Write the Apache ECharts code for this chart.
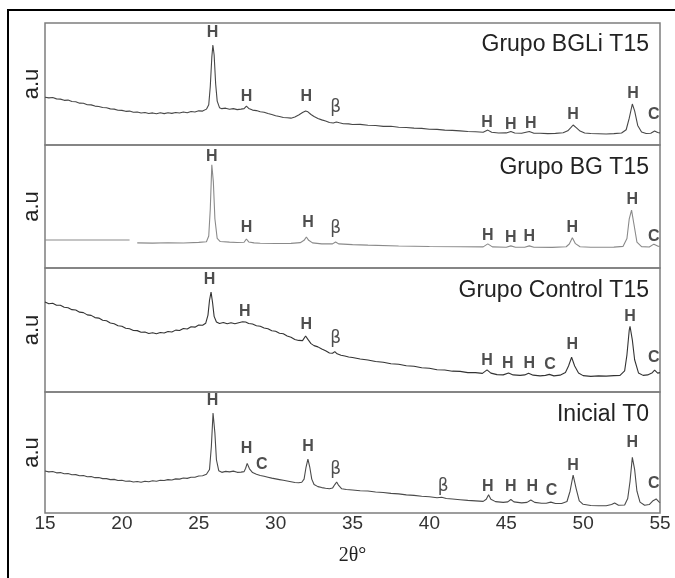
<!DOCTYPE html>
<html lang="es">
<head>
<meta charset="UTF-8">
<title>DRX grupos</title>
<script src="https://cdn.jsdelivr.net/npm/echarts@6/dist/echarts.min.js"></script>
<style>
    * { margin: 0; padding: 0; }
    body { background: #fff; }
    #chart { width: 675px; height: 578px; }
</style>
</head>
<body>
<div id="chart"></div>
<script>
// intensidades relativas (0-100 dentro de cada panel), 2theta en grados
var bgliData = [[15,39.2],[15.25,38.6],[15.5,38.9],[15.75,37.8],[16,37.6],[16.25,36.6],[16.5,36.8],[16.75,35.6],[17,35.4],[17.25,34.3],[17.5,34.2],[17.75,33.0],[18,32.9],[18.25,31.9],[18.5,31.6],[18.75,30.7],[19,30.5],[19.25,29.6],[19.5,29.4],[19.75,28.5],[20,28.4],[20.25,27.6],[20.5,27.8],[20.75,26.9],[21,27.1],[21.25,26.2],[21.5,26.6],[21.75,25.8],[22,26.3],[22.25,25.6],[22.5,26.4],[22.75,25.7],[23,26.5],[23.25,25.9],[23.5,26.7],[23.75,26.2],[24,27.0],[24.25,26.5],[24.5,27.5],[24.75,27.1],[25,28.0],[25.25,27.8],[25.5,29.4],[25.65,33],[25.75,48],[25.85,72],[25.92,82],[26.0,74],[26.1,50],[26.2,36],[26.35,30.6],[26.5,29.8],[26.75,30.2],[27,29.3],[27.25,29.8],[27.5,29.0],[27.75,29.4],[27.95,29.8],[28.1,31.8],[28.25,30.0],[28.5,28.6],[28.75,28.2],[29,27.3],[29.25,26.9],[29.5,25.8],[29.75,25.0],[30,24.0],[30.25,23.4],[30.5,22.6],[30.75,22.3],[31,22.0],[31.25,23.0],[31.5,24.6],[31.75,26.6],[31.95,27.8],[32.1,27.2],[32.3,25],[32.5,23.4],[32.75,21.8],[33,20.6],[33.25,19.6],[33.5,18.4],[33.75,18.0],[33.95,18.9],[34.15,18.2],[34.4,17.4],[34.75,17.3],[35,16.8],[35.5,16.9],[36,16.2],[36.5,16.0],[37,15.3],[37.5,15.4],[38,14.6],[38.5,14.3],[39,13.8],[39.5,13.6],[40,12.9],[40.5,12.8],[41,12.2],[41.5,12.0],[42,11.6],[42.5,11.1],[43,10.9],[43.5,10.5],[43.8,12.2],[44.05,10.4],[44.5,9.8],[45,9.9],[45.3,11.0],[45.55,9.8],[46,9.6],[46.5,11.0],[46.8,9.6],[47.2,9.6],[47.7,9.3],[48.2,9.5],[48.7,10.0],[49.0,11.6],[49.2,14.2],[49.35,16.4],[49.55,14.2],[49.8,11.4],[50.1,9.8],[50.5,9.4],[51,9.2],[51.5,9.0],[52,9.3],[52.5,9.8],[52.8,12.5],[53.0,22],[53.2,33.6],[53.35,28],[53.55,16],[53.8,10.6],[54.1,9.4],[54.4,9.6],[54.65,11.4],[54.85,10.2],[55,9.8]];

var bgData = [[15,22.8],[20.5,22.8],[20.75,null],[21,20.4],[22,20.2],[23,20.5],[24,20.3],[25,20.8],[25.5,21.4],[25.65,26],[25.75,48],[25.85,84],[25.95,70],[26.05,40],[26.2,24],[26.4,21.5],[27,21.0],[27.5,20.7],[27.95,20.9],[28.1,23.6],[28.25,21.2],[28.6,20.4],[29,20.1],[30,19.9],[31,20.0],[31.6,20.6],[31.85,22.5],[32.0,25.2],[32.15,22.5],[32.4,20.4],[33,19.6],[33.7,19.6],[33.9,21.2],[34.1,19.6],[35,19.0],[36,18.6],[38,17.9],[40,17.5],[42,17.3],[43.5,17.2],[43.8,19.6],[44.1,17.2],[45,16.9],[45.3,18.0],[45.6,16.9],[46.2,16.9],[46.5,18.0],[46.8,16.9],[48,16.8],[48.9,17.3],[49.1,19.5],[49.3,24.5],[49.5,19.8],[49.8,17.3],[50.5,16.9],[52,17.0],[52.6,17.6],[52.85,24],[53.0,40],[53.15,47],[53.3,36],[53.5,21],[53.8,17.4],[54.3,17.1],[54.6,19.4],[54.85,17.8],[55,17.6]];

var controlData = [[15,72.6],[15.25,71.2],[15.5,71.6],[15.75,69.9],[16,70.0],[16.25,68.3],[16.5,68.0],[16.75,66.4],[17,66.1],[17.25,64.4],[17.5,64.0],[17.75,62.2],[18,61.8],[18.25,60.0],[18.5,59.6],[18.75,57.8],[19,57.4],[19.25,55.6],[19.5,55.0],[19.75,53.4],[20,53.0],[20.25,51.4],[20.5,51.0],[20.75,49.6],[21,49.5],[21.25,48.2],[21.5,48.4],[21.75,47.2],[22,47.8],[22.25,46.9],[22.5,48.0],[22.75,47.6],[23,48.8],[23.25,48.4],[23.5,49.9],[23.75,49.6],[24,51.2],[24.25,50.8],[24.5,52.6],[24.75,52.3],[25,54.0],[25.25,53.8],[25.45,55.4],[25.6,62],[25.7,74],[25.8,80.6],[25.9,72],[26.0,61],[26.15,56.5],[26.35,55.2],[26.6,56.0],[26.85,55.0],[27.1,55.8],[27.35,55.0],[27.6,55.9],[27.85,56.6],[28.05,56.4],[28.25,55.2],[28.5,54.8],[28.75,53.4],[29,53.0],[29.25,51.6],[29.5,51.0],[29.75,49.4],[30,49.0],[30.25,47.4],[30.5,47.0],[30.75,45.2],[31,44.2],[31.25,42.4],[31.5,41.6],[31.75,41.4],[31.95,45.2],[32.1,42.4],[32.3,39.0],[32.5,37.4],[32.75,36.4],[33,34.6],[33.25,33.2],[33.5,31.4],[33.7,31.2],[33.85,32.6],[34.0,30.8],[34.25,29.6],[34.5,29.0],[34.75,28.2],[35,27.8],[35.5,26.6],[36,25.8],[36.5,24.6],[37,24.0],[37.5,22.8],[38,22.4],[38.5,21.2],[39,20.8],[39.5,19.6],[40,19.2],[40.5,18.0],[41,17.8],[41.5,16.8],[42,16.6],[42.5,15.6],[43,15.6],[43.45,15.0],[43.75,17.8],[44.0,15.2],[44.4,14.0],[44.8,13.8],[45.15,15.4],[45.45,13.8],[45.9,13.4],[46.2,13.8],[46.45,15.2],[46.75,13.6],[47.2,13.0],[47.55,13.4],[47.8,14.2],[48.1,13.0],[48.5,13.6],[48.85,15.8],[49.05,21],[49.25,28],[49.45,21],[49.7,15.4],[50,13.2],[50.5,12.6],[51,13.0],[51.5,12.8],[52,13.2],[52.4,13.4],[52.7,17],[52.85,30],[53.0,50],[53.05,53],[53.2,42],[53.35,26],[53.6,15.4],[53.9,13.4],[54.2,13.8],[54.5,15.6],[54.65,17.6],[54.85,15.2],[55,15.6]];

var inicialData = [[15,34.7],[15.25,34.0],[15.5,34.3],[15.75,33.2],[16,33.4],[16.25,32.5],[16.5,32.6],[16.75,31.6],[17,31.7],[17.25,30.8],[17.5,31.0],[17.75,30.0],[18,30.2],[18.25,29.2],[18.5,29.3],[18.75,28.4],[19,28.4],[19.25,27.6],[19.5,27.8],[19.75,26.8],[20,27.0],[20.25,26.2],[20.5,26.4],[20.75,25.6],[21,26.0],[21.25,25.4],[21.5,26.2],[21.75,25.8],[22,26.6],[22.25,26.2],[22.5,27.0],[22.75,26.8],[23,27.6],[23.25,27.3],[23.5,28.2],[23.75,28.0],[24,28.9],[24.25,28.6],[24.5,29.6],[24.75,29.6],[25,30.6],[25.25,30.8],[25.5,32.0],[25.7,36],[25.82,55],[25.93,82.6],[26.05,66],[26.15,44],[26.3,35],[26.5,33.6],[26.75,34.4],[27,34.0],[27.25,34.6],[27.5,33.6],[27.75,33.8],[27.95,34.2],[28.05,37],[28.15,41],[28.3,36.5],[28.5,33.4],[28.75,32.0],[29,31.0],[29.25,30.4],[29.5,29.6],[29.75,28.8],[30,28.2],[30.25,27.6],[30.5,27.0],[30.75,26.4],[31,25.8],[31.25,25.2],[31.5,25.0],[31.7,25.4],[31.85,28],[31.98,38],[32.1,44.6],[32.22,38],[32.35,28],[32.5,23.5],[32.75,21.8],[33,21.0],[33.25,20.4],[33.5,20.0],[33.7,20.6],[33.85,23.5],[33.97,25.6],[34.1,22.8],[34.3,20.0],[34.6,19.4],[35,19.0],[35.5,18.4],[36,18.2],[36.5,17.4],[37,17.0],[37.5,16.2],[38,15.8],[38.5,15.0],[39,14.6],[39.5,13.8],[40,13.4],[40.5,12.6],[40.8,13.0],[41.1,12.0],[41.5,11.6],[42,11.0],[42.5,10.4],[43,10.0],[43.5,9.6],[43.7,11.4],[43.85,15.0],[44.0,11.4],[44.3,9.4],[44.8,8.8],[45.1,9.2],[45.3,11.2],[45.5,9.2],[46,8.4],[46.35,8.8],[46.6,10.8],[46.85,8.8],[47.3,8.0],[47.6,8.0],[47.9,9.0],[48.2,7.8],[48.6,7.8],[48.95,9.5],[49.15,18],[49.35,31.4],[49.55,20],[49.75,10],[50,7.2],[50.5,6.2],[51,6.0],[51.5,6.0],[51.85,7.0],[52.05,8.2],[52.3,6.4],[52.7,6.6],[52.9,12],[53.05,26],[53.2,46],[53.35,36],[53.5,18],[53.7,9],[54,6.4],[54.3,7.0],[54.55,10.2],[54.75,11.6],[54.95,9.0],[55,8.6]];

// etiquetas de fases: [2theta, altura, texto]
var bgliPeaks = [[25.9,91.8,'H'],[28.1,39.3,'H'],[32.0,39.3,'H'],[33.9,30.3,'β'],[43.75,18,'H'],[45.3,16.4,'H'],[46.6,17.2,'H'],[49.34,24.6,'H'],[53.25,41.8,'H'],[54.6,24.6,'C']];
var bgPeaks = [[25.85,90.2,'H'],[28.1,32.5,'H'],[32.1,36.6,'H'],[33.9,31.7,'β'],[43.8,26,'H'],[45.3,24.4,'H'],[46.5,25.2,'H'],[49.3,32.5,'H'],[53.2,56,'H'],[54.6,25.2,'C']];
var controlPeaks = [[25.7,90.3,'H'],[28.0,64.5,'H'],[32.0,54,'H'],[33.9,42.7,'β'],[43.75,25,'H'],[45.1,22.6,'H'],[46.5,22.6,'H'],[47.85,21.8,'C'],[49.3,37.9,'H'],[53.05,60.5,'H'],[54.6,27.4,'C']];
var inicialPeaks = [[25.9,93,'H'],[28.1,52.9,'H'],[29.1,39.7,'C'],[32.1,54.5,'H'],[33.9,35.5,'β'],[40.9,21.5,'β'],[43.8,21.5,'H'],[45.3,21.5,'H'],[46.7,21.5,'H'],[47.95,18.2,'C'],[49.35,38.8,'H'],[53.2,57.9,'H'],[54.6,24,'C']];

var panelNames = ['Grupo BGLi T15', 'Grupo BG T15', 'Grupo Control T15', 'Inicial T0'];
var xMin = 15, xMax = 55, xStep = 5;

var panels = [
    { data: bgliData, peaks: bgliPeaks, color: '#474747' },
    { data: bgData, peaks: bgPeaks, color: '#8a8a8a' },
    { data: controlData, peaks: controlPeaks, color: '#333333' },
    { data: inicialData, peaks: inicialPeaks, color: '#4a4a4a' }
];

var tops = [23, 145, 268, 392];
var heights = [122, 123, 124, 121];
var titleY = [45, 168, 291, 415];
var sans = '"Liberation Sans", Arial, sans-serif';
var serif = '"Liberation Serif", "Times New Roman", serif';

var grids = [], xAxes = [], yAxes = [], series = [], graphics = [];

graphics.push({
    type: 'rect', silent: true,
    shape: { x: 8, y: 10, width: 800, height: 800 },
    style: { fill: 'none', stroke: '#000', lineWidth: 2 }
});

panels.forEach(function (p, i) {
    var last = i === panels.length - 1;
    grids.push({
        left: 45, right: 15, top: tops[i], height: heights[i],
        show: true, borderColor: '#7d7d7d', borderWidth: 1.5, backgroundColor: 'transparent'
    });
    xAxes.push({
        type: 'value', gridIndex: i, min: xMin, max: xMax, interval: xStep,
        axisLine: { show: false }, axisTick: { show: false }, splitLine: { show: false },
        axisLabel: { show: last, fontSize: 19, color: '#333', fontFamily: sans, margin: 1 },
        name: last ? '2θ°' : '', nameLocation: 'middle', nameGap: 33,
        nameTextStyle: { fontSize: 20, color: '#222', fontFamily: serif }
    });
    yAxes.push({
        type: 'value', gridIndex: i, min: 0, max: 100,
        axisLine: { show: false }, axisTick: { show: false }, splitLine: { show: false },
        axisLabel: { show: false },
        name: 'a.u', nameLocation: 'middle', nameGap: 2,
        nameTextStyle: { fontSize: 22, color: '#222', fontFamily: sans }
    });
    series.push({
        type: 'line', xAxisIndex: i, yAxisIndex: i, data: p.data,
        showSymbol: false, symbol: 'none', connectNulls: false,
        lineStyle: { color: p.color, width: 1.1 }, silent: true
    });
    series.push({
        type: 'scatter', xAxisIndex: i, yAxisIndex: i, data: p.peaks,
        symbolSize: 1, itemStyle: { color: 'transparent' }, silent: true,
        label: {
            show: true, position: 'inside',
            formatter: function (d) {
                return d.data[2] === 'β' ? '{b|β}' : '{h|' + d.data[2] + '}';
            },
            rich: {
                h: { fontSize: 16, fontWeight: 'bold', color: '#222', fontFamily: sans },
                b: { fontSize: 17, color: '#222', fontFamily: '"DejaVu Sans", sans-serif' }
            }
        }
    });
    graphics.push({
        type: 'text', silent: true, x: 649, y: titleY[i],
        style: {
            text: panelNames[i], align: 'right', verticalAlign: 'middle',
            fontSize: 23, fontFamily: sans, fill: '#222'
        }
    });
});

var myChart = echarts.init(document.getElementById('chart'));
myChart.setOption({
    animation: false,
    backgroundColor: '#fff',
    grid: grids,
    xAxis: xAxes,
    yAxis: yAxes,
    series: series,
    graphic: graphics
});
</script>
</body>
</html>
